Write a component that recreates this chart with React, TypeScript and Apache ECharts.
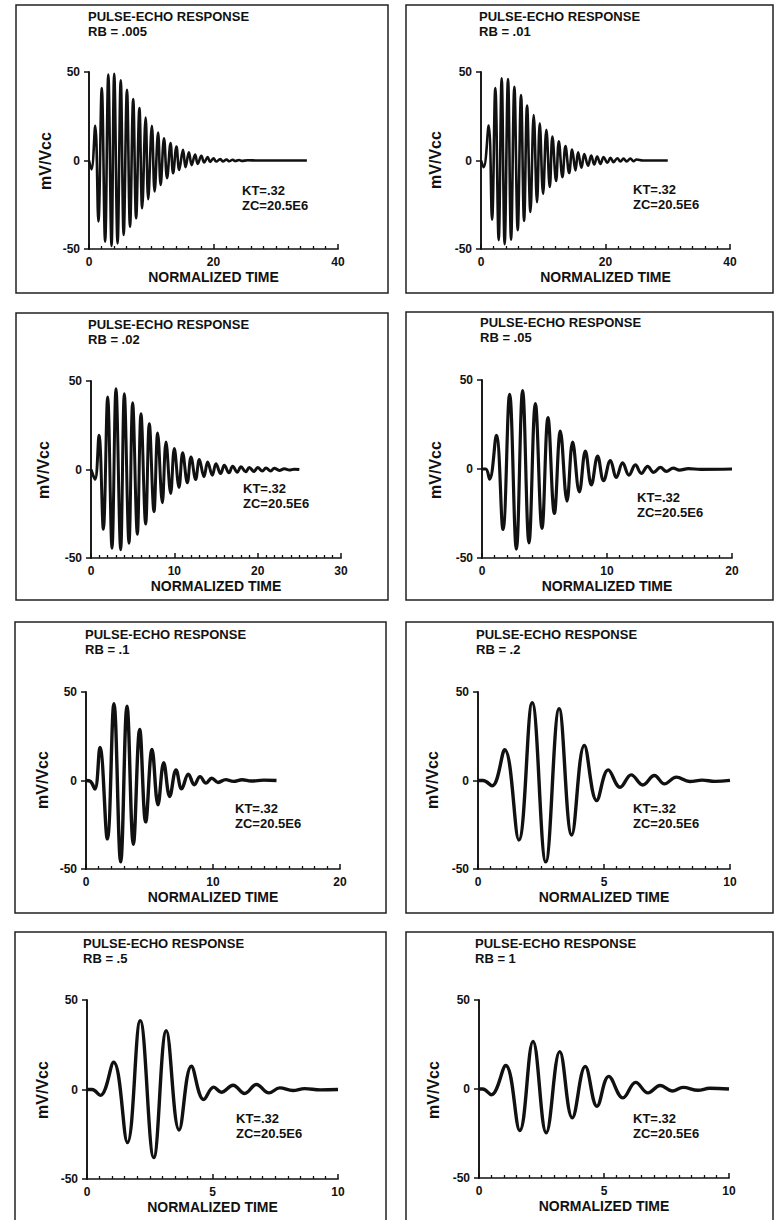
import React, { useEffect, useRef } from "react";
import * as echarts from "echarts";

// ---------- text ----------
const TITLE = "PULSE-ECHO RESPONSE";
const RB_LABELS = ["RB = .005", "RB = .01", "RB = .02", "RB = .05", "RB = .1", "RB = .2", "RB = .5", "RB = 1"];
const KT_LABEL = "KT=.32";
const ZC_LABEL = "ZC=20.5E6";
const Y_NAME = "mV/Vcc";
const X_NAME = "NORMALIZED TIME";

// ---------- axes ----------
const X_MAX = [40, 40, 30, 20, 20, 10, 10, 10];
const X_INTERVAL = [20, 20, 10, 10, 10, 5, 5, 5];
const Y_MIN = -50;
const Y_MAX = 50;
const Y_INTERVAL = 50;

// ---------- data: [normalized time, mV/Vcc] (peaks & troughs) ----------
const rb005: [number, number][] = [
  [0, 0], [0.4, -5], [1.0, 19.6], [1.51, -34.5], [2.05, 40.9], [2.59, -45.8], [3.1, 48.5], [3.62, -48.3],
  [4.05, 49], [4.59, -46.8], [5.1, 45.3], [5.57, -42.1], [6.1, 40], [6.59, -37.4], [7.1, 34.7], [7.57, -32.6],
  [8.1, 29.6], [8.54, -27], [9.1, 24.3], [9.51, -21.9], [10.1, 19.6], [10.54, -17.5], [11.1, 15.8], [11.51, -13.8],
  [12.05, 12.6], [12.54, -10], [13.1, 9.8], [13.51, -7.2], [14.05, 7.9], [14.49, -5.3], [15.1, 6], [15.51, -3.8],
  [16.05, 4.7], [16.49, -2.6], [17.05, 3.4], [17.46, -1.9], [18.05, 2.6], [18.49, -1.1], [19.05, 1.9], [19.46, -0.8],
  [20.0, 1.3], [20.43, -0.6], [21.1, 0.8], [21.5, -0.5], [22.1, 0.6], [22.5, -0.4], [23.1, 0.4], [23.5, -0.3],
  [24.1, 0.3], [24.5, -0.2], [25.5, 0.1], [27, 0], [35, 0],
];
const rb01: [number, number][] = [
  [0, 0], [0.43, -3.8], [1.23, 19.7], [1.77, -33.4], [2.3, 40.9], [2.84, -45], [3.32, 46.5], [3.8, -47.3],
  [4.34, 46], [4.83, -44.7], [5.36, 41.6], [5.9, -39.4], [6.43, 37], [6.92, -34.1], [7.4, 31], [7.94, -29.1],
  [8.47, 25.7], [9.0, -23.5], [9.44, 21], [9.97, -18.8], [10.5, 17.3], [11.05, -15], [11.47, 13.5], [12.06, -11.6],
  [12.5, 10.9], [13.08, -9.4], [13.57, 8.1], [14.16, -7.1], [14.64, 6.2], [15.17, -5.6], [15.6, 4.7], [16.14, -4.1],
  [16.6, 3.6], [17.2, -3], [17.7, 2.8], [18.2, -2.3], [18.66, 2.2], [19.2, -1.9], [19.7, 1.9], [20.3, -1.3],
  [20.8, 1.5], [21.3, -0.9], [21.9, 1.3], [22.4, -0.6], [22.9, 1.1], [23.4, -0.5], [24, 1.1], [24.5, -0.4],
  [25, 0.6], [26, 0], [30, 0],
];
const rb02: [number, number][] = [
  [0, 0], [0.48, -5.6], [0.96, 19.3], [1.48, -33.8], [2.0, 40.9], [2.52, -44.5], [3.0, 45.6], [3.56, -45.4],
  [4.0, 42.8], [4.56, -41.7], [5.0, 37.7], [5.56, -36.6], [6.0, 31.5], [6.56, -30.8], [7.0, 25.9], [7.56, -23.8],
  [8.0, 20.6], [8.56, -18.8], [9.0, 15.6], [9.56, -13.5], [10.0, 11.8], [10.56, -10.1], [11.0, 9.4], [11.56, -7.5],
  [12.0, 7.1], [12.56, -5.6], [13.0, 5.6], [13.56, -4.1], [14.0, 4.3], [14.56, -3.2], [15.0, 3.2], [15.56, -2.3],
  [16.0, 2.4], [16.56, -1.9], [17.0, 1.9], [17.56, -1.5], [18.0, 1.5], [18.56, -1.3], [19.0, 1.1], [19.56, -1.1],
  [20.0, 1.1], [20.56, -0.9], [21.0, 0.9], [21.56, -0.9], [22.0, 0.7], [22.6, -0.5], [23.2, 0.4], [23.8, -0.3],
  [24.4, 0.2], [25, 0],
];
const rb05: [number, number][] = [
  [0, 0], [0.3, 0], [0.61, -5.7], [1.15, 18.9], [1.68, -34], [2.21, 42], [2.75, -45], [3.25, 44],
  [3.76, -41.5], [4.27, 36.8], [4.8, -33.4], [5.28, 28.9], [5.79, -25], [6.27, 21.3], [6.8, -18], [7.25, 15.1],
  [7.79, -12.8], [8.27, 10], [8.75, -8.9], [9.25, 7.2], [9.73, -6.6], [10.27, 4.7], [10.75, -4.7], [11.25, 3.4],
  [11.76, -3.4], [12.27, 2.3], [12.75, -2.5], [13.25, 1.5], [13.73, -1.9], [14.27, 0.9], [14.75, -1.3], [15.3, 0.5],
  [15.8, -0.6], [16.5, 0.2], [17.5, -0.2], [20, 0],
];
const rb1: [number, number][] = [
  [0, 0], [0.35, -0.5], [0.7, -4.9], [1.1, 18.7], [1.68, -33], [2.2, 43.4], [2.73, -46], [3.23, 42],
  [3.73, -36], [4.23, 28.8], [4.7, -23.4], [5.2, 17.6], [5.67, -13.7], [6.12, 10], [6.59, -9], [7.09, 6],
  [7.53, -4.7], [8.06, 3.6], [8.53, -2.4], [8.98, 2.2], [9.45, -1.5], [9.9, 1.3], [10.4, -1.1], [11, 0.5],
  [11.6, -0.5], [12.3, 0.4], [13, -0.3], [14, 0.2], [15, 0],
];
const rb2: [number, number][] = [
  [0, 0], [0.2, 0], [0.56, -3], [1.06, 17.4], [1.62, -33.6], [2.15, 44], [2.69, -46], [3.22, 40.5],
  [3.72, -30.8], [4.22, 19.8], [4.71, -11.3], [5.17, 6], [5.64, -3.8], [6.08, 3.2], [6.54, -2.5], [7.0, 2.8],
  [7.4, -1.9], [7.87, 1.9], [8.4, -0.6], [8.9, 0.2], [9.4, -0.5], [10, 0.1],
];
const rb5: [number, number][] = [
  [0, 0], [0.2, 0], [0.53, -3.3], [1.06, 15.2], [1.61, -29.6], [2.12, 38.5], [2.66, -38], [3.16, 32.8],
  [3.67, -22.6], [4.16, 13], [4.65, -5.6], [5.05, 1.3], [5.35, -1.5], [5.82, 2.4], [6.28, -2.2], [6.75, 2.8],
  [7.25, -1.9], [7.68, 0.9], [8.2, -0.6], [8.67, 0.5], [9.3, -0.2], [10, 0],
];
const rb10: [number, number][] = [
  [0, 0], [0.15, 0], [0.49, -3.2], [1.07, 13.2], [1.63, -23.3], [2.16, 26.7], [2.69, -24.6], [3.23, 21],
  [3.73, -16.2], [4.25, 12.7], [4.72, -9.7], [5.19, 7.1], [5.76, -5], [6.27, 3.7], [6.76, -2.2], [7.25, 2],
  [7.73, -1.1], [8.16, 0.9], [8.76, -0.7], [9.23, 0.4], [10, 0],
];
const SERIES = [rb005, rb01, rb02, rb05, rb1, rb2, rb5, rb10];

// ---------- layout (pixels) ----------
type Layout = {
  box: [number, number, number, number];
  grid: [number, number, number, number];
  title: [number, number];
  rb: [number, number];
  ylab: [number, number];
  kt: [number, number];
  zc: [number, number];
  lw: number;
};
const LAYOUT: Layout[] = [
  { box: [16, 5, 388, 293], grid: [89, 72, 249, 177], title: [88, 16], rb: [88, 31], ylab: [45, 161], kt: [242, 190], zc: [242, 205], lw: 2.6 },
  { box: [406, 5, 773, 293], grid: [481, 72, 249, 177], title: [479, 16], rb: [479, 31], ylab: [435, 160], kt: [633, 189], zc: [633, 204], lw: 2.6 },
  { box: [16, 313, 388, 600], grid: [91, 381, 250, 177], title: [88, 324], rb: [88, 339], ylab: [43, 470], kt: [243, 488], zc: [243, 503], lw: 3 },
  { box: [406, 312, 773, 600], grid: [482, 380, 250, 178], title: [480, 322], rb: [480, 337], ylab: [435, 470], kt: [637, 497], zc: [637, 512], lw: 3.2 },
  { box: [15, 622, 386, 913], grid: [86, 692, 254, 177], title: [85, 634], rb: [85, 649], ylab: [42, 780], kt: [235, 808], zc: [235, 823], lw: 3.4 },
  { box: [406, 622, 773, 913], grid: [478, 692, 252, 177], title: [476, 634], rb: [476, 649], ylab: [432, 780], kt: [633, 808], zc: [633, 823], lw: 3.4 },
  { box: [15, 932, 386, 1226], grid: [87, 1000, 251, 179], title: [83, 943], rb: [83, 958], ylab: [42, 1090], kt: [236, 1118], zc: [236, 1133], lw: 3.4 },
  { box: [406, 932, 773, 1226], grid: [479, 1000, 250, 178], title: [475, 943], rb: [475, 958], ylab: [433, 1090], kt: [633, 1118], zc: [633, 1133], lw: 3.4 },
];

const FONT = "'Liberation Sans', Arial, Helvetica, sans-serif";
const INK = "#111";

function txt(text: string, x: number, y: number, size: number, align = "left", rotation = 0) {
  return {
    type: "text",
    x,
    y,
    rotation,
    silent: true,
    style: {
      text,
      fill: INK,
      fontFamily: FONT,
      fontSize: size,
      fontWeight: "bold",
      align,
      verticalAlign: "middle",
      textAlign: align,
      textVerticalAlign: "middle",
    },
  };
}

export default function App() {
  const ref = useRef<HTMLDivElement>(null);

  useEffect(() => {
    if (!ref.current) return;
    const chart = echarts.init(ref.current, null, { renderer: "svg" });

    const grids = LAYOUT.map((l) => ({ left: l.grid[0], top: l.grid[1], width: l.grid[2], height: l.grid[3] }));

    const xAxes = LAYOUT.map((_, i) => ({
      gridIndex: i,
      type: "value",
      min: 0,
      max: X_MAX[i],
      interval: X_INTERVAL[i],
      axisLine: { show: true, onZero: false, lineStyle: { color: INK, width: 1.7 } },
      axisTick: { show: true, inside: true, length: 5, lineStyle: { color: INK, width: 1.5 } },
      minorTick: { show: true, splitNumber: 10, length: 3, lineStyle: { color: INK, width: 1.3 } },
      axisLabel: { show: true, margin: 7, color: INK, fontSize: 12, fontWeight: "bold", fontFamily: FONT, showMinLabel: true, showMaxLabel: true },
      splitLine: { show: false },
    }));

    const yAxes = LAYOUT.map((_, i) => ({
      gridIndex: i,
      type: "value",
      min: Y_MIN,
      max: Y_MAX,
      interval: Y_INTERVAL,
      axisLine: { show: true, onZero: false, lineStyle: { color: INK, width: 1.9 } },
      axisTick: { show: true, inside: false, length: 5, lineStyle: { color: INK, width: 1.5 } },
      axisLabel: { show: true, margin: 9, color: INK, fontSize: 12, fontWeight: "bold", fontFamily: FONT },
      splitLine: { show: false },
    }));

    const series = SERIES.map((data, i) => ({
      type: "line",
      xAxisIndex: i,
      yAxisIndex: i,
      data,
      showSymbol: false,
      symbol: "none",
      smooth: 0.4,
      silent: true,
      lineStyle: { color: INK, width: LAYOUT[i].lw },
    }));

    const graphic: any[] = [];
    LAYOUT.forEach((l, i) => {
      graphic.push({
        type: "rect",
        silent: true,
        shape: { x: l.box[0], y: l.box[1], width: l.box[2] - l.box[0], height: l.box[3] - l.box[1] },
        style: { fill: "none", stroke: "#222", lineWidth: 1.5 },
      });
      graphic.push(txt(TITLE, l.title[0], l.title[1], 13));
      graphic.push(txt(RB_LABELS[i], l.rb[0], l.rb[1], 13));
      graphic.push(txt(Y_NAME, l.ylab[0], l.ylab[1], 16, "center", Math.PI / 2));
      graphic.push(txt(KT_LABEL, l.kt[0], l.kt[1], 13));
      graphic.push(txt(ZC_LABEL, l.zc[0], l.zc[1], 13));
      graphic.push(txt(X_NAME, l.grid[0] + l.grid[2] / 2, l.grid[1] + l.grid[3] + 28, 14, "center"));
    });

    chart.setOption({
      animation: false,
      backgroundColor: "#fff",
      grid: grids,
      xAxis: xAxes,
      yAxis: yAxes,
      series,
      graphic,
    } as any);

    return () => chart.dispose();
  }, []);

  return <div ref={ref} style={{ position: "absolute", left: 0, top: 0, width: 776, height: 1220 }} />;
}
